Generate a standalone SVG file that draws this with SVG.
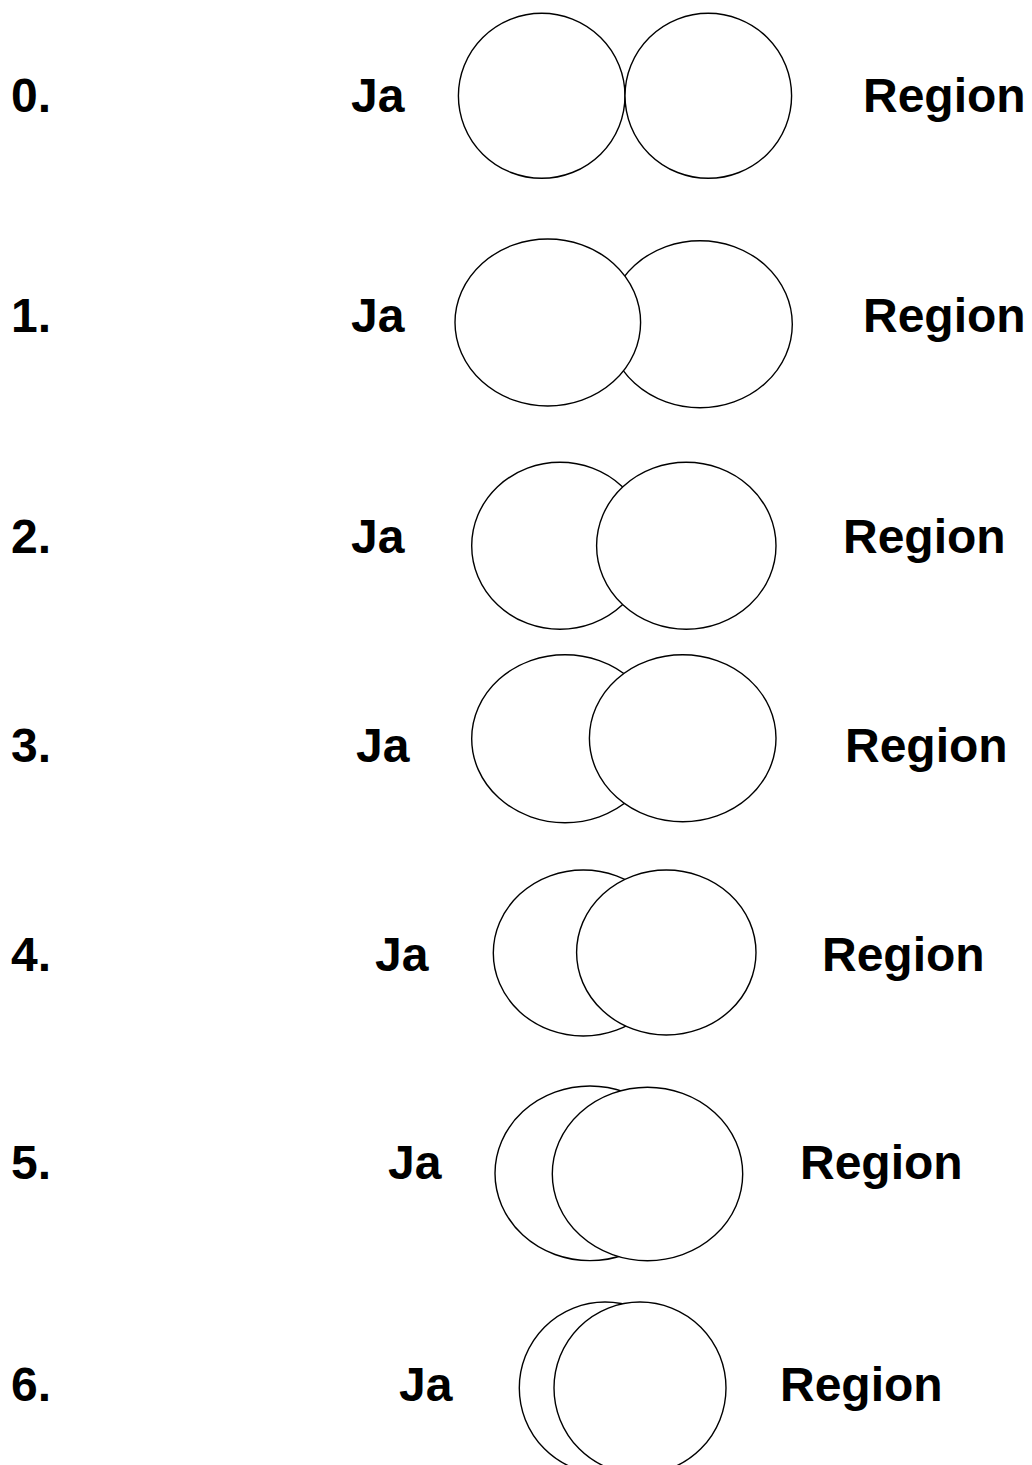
<svg xmlns="http://www.w3.org/2000/svg" width="1032" height="1465" viewBox="0 0 1032 1465">
<style>
.e{fill:#fff;stroke:#000;stroke-width:1.4}
.t{font-family:"Liberation Sans",Arial,sans-serif;font-weight:bold;font-size:48px;fill:#000}
</style>
<rect width="1032" height="1465" fill="#fff"/>
<g id="row0">
<ellipse class="e" cx="541.7" cy="95.8" rx="83.3" ry="82.5"/>
<ellipse class="e" cx="708.3" cy="95.8" rx="83.3" ry="82.5"/>
<text class="t" x="11" y="111.7">0.</text><text class="t" x="351" y="111.7">Ja</text><text class="t" x="863" y="111.7">Region</text>
</g>
<g id="row1">
<ellipse class="e" cx="700" cy="324.2" rx="92.3" ry="83.5"/>
<ellipse class="e" cx="547.8" cy="322.5" rx="92.8" ry="83.5"/>
<text class="t" x="11" y="331.7">1.</text><text class="t" x="351" y="331.7">Ja</text><text class="t" x="863" y="331.7">Region</text>
</g>
<g id="row2">
<ellipse class="e" cx="560" cy="545.8" rx="88.3" ry="83.5"/>
<ellipse class="e" cx="686.3" cy="545.8" rx="89.7" ry="83.5"/>
<text class="t" x="11" y="553.3">2.</text><text class="t" x="351" y="553.3">Ja</text><text class="t" x="843" y="553.3">Region</text>
</g>
<g id="row3">
<ellipse class="e" cx="565" cy="738.7" rx="93.3" ry="84"/>
<ellipse class="e" cx="682.7" cy="738.2" rx="93.3" ry="83.5"/>
<text class="t" x="11" y="761.7">3.</text><text class="t" x="356" y="761.7">Ja</text><text class="t" x="845" y="761.7">Region</text>
</g>
<g id="row4">
<ellipse class="e" cx="583.3" cy="953" rx="90" ry="83"/>
<ellipse class="e" cx="666.3" cy="952.5" rx="89.7" ry="82.5"/>
<text class="t" x="11" y="970.7">4.</text><text class="t" x="375" y="970.7">Ja</text><text class="t" x="822" y="970.7">Region</text>
</g>
<g id="row5">
<ellipse class="e" cx="590" cy="1173.3" rx="95" ry="87.3"/>
<ellipse class="e" cx="647.5" cy="1174" rx="95.2" ry="86.7"/>
<text class="t" x="11" y="1179.3">5.</text><text class="t" x="388" y="1179.3">Ja</text><text class="t" x="800" y="1179.3">Region</text>
</g>
<g id="row6">
<ellipse class="e" cx="605" cy="1388" rx="85.7" ry="86"/>
<ellipse class="e" cx="640" cy="1388" rx="86" ry="86"/>
<text class="t" x="11" y="1401">6.</text><text class="t" x="399" y="1401">Ja</text><text class="t" x="780" y="1401">Region</text>
</g>
<g id="connectors"/>
</svg>
